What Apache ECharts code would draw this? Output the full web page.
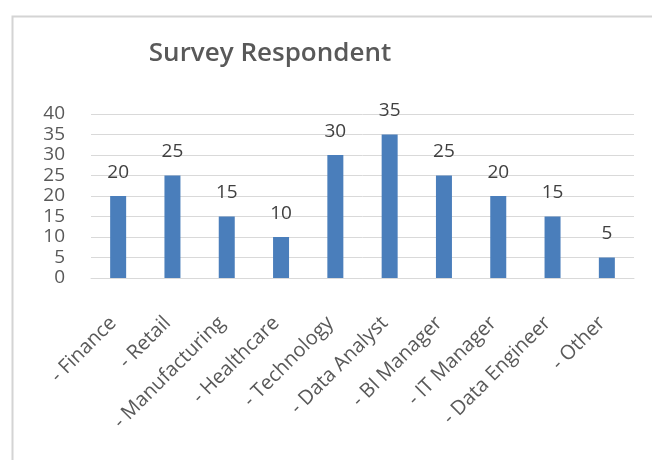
<!DOCTYPE html>
<html>
<head>
<meta charset="utf-8">
<script src="https://cdn.jsdelivr.net/npm/echarts@6/dist/echarts.min.js"></script>
<style>html,body{margin:0;padding:0;background:#fff}#c{width:652px;height:460px}</style>
</head>
<body>
<div id="c"></div>
<script>
var categories = ['- Finance', '- Retail', '- Manufacturing', '- Healthcare', '- Technology', '- Data Analyst', '- BI Manager', '- IT Manager', '- Data Engineer', '- Other'];
var values = [20, 25, 15, 10, 30, 35, 25, 20, 15, 5];
var yTicks = [0, 5, 10, 15, 20, 25, 30, 35, 40];
var titleText = 'Survey Respondent';

var chart = echarts.init(document.getElementById('c'), null, {renderer: 'canvas'});
chart.setOption({
  backgroundColor: '#ffffff',
  animation: false,
  graphic: [{
    type: 'rect', left: 10, top: 14,
    shape: {width: 700, height: 500},
    style: {fill: 'none', stroke: '#d4d4d4', lineWidth: 2},
    z: -1
  }],
  title: {
    text: titleText,
    left: 265, top: 36,
    textAlign: 'center',
    textStyle: {fontFamily: 'Open Sans', fontSize: 26, fontWeight: 600, color: '#595959'}
  },
  grid: {left: 91, right: 18, top: 114, bottom: 182, containLabel: false},
  xAxis: {
    type: 'category',
    data: categories,
    axisLine: {lineStyle: {color: '#d9d9d9', width: 1}},
    axisTick: {show: false},
    axisLabel: {
      rotate: 45, interval: 0, margin: 37, padding: [0, 7, 0, 0],
      fontFamily: 'Open Sans', fontSize: 20, color: '#595959'
    }
  },
  yAxis: {
    type: 'value',
    min: yTicks[0], max: yTicks[yTicks.length - 1], interval: 5,
    axisLine: {show: false},
    axisTick: {show: false},
    splitLine: {lineStyle: {color: '#d9d9d9', width: 1}},
    axisLabel: {
      margin: 26, fontFamily: 'Open Sans', fontSize: 19, color: '#595959', lineHeight: 19
    }
  },
  series: [{
    type: 'bar',
    data: values,
    barWidth: 16,
    itemStyle: {color: '#4a7ebb'},
    label: {
      show: true, position: 'top', distance: 14,
      fontFamily: 'Open Sans', fontSize: 19, color: '#404040'
    }
  }]
});
</script>
</body>
</html>
